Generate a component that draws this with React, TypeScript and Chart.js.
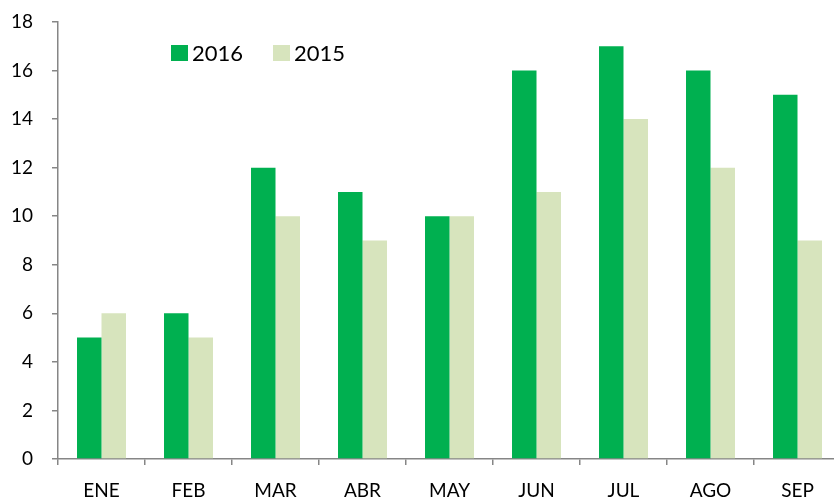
import React, { useEffect, useRef } from "react";
import { Chart, registerables } from "chart.js";

Chart.register(...registerables);

const categories = ["ENE", "FEB", "MAR", "ABR", "MAY", "JUN", "JUL", "AGO", "SEP"];
const values2016 = [5, 6, 12, 11, 10, 16, 17, 16, 15];
const values2015 = [6, 5, 10, 9, 10, 11, 14, 12, 9];
const seriesLabels = ["2016", "2015"];
const yMin = 0;
const yMax = 18;
const yStep = 2;

const COLOR_2016 = "#00B050";
const COLOR_2015 = "#D7E4BD";
const AXIS = "#868686";
const FONT = "Lato";

const legendPlugin = {
  id: "insideLegend",
  afterDraw(chart: any) {
    const ctx = chart.ctx;
    const xs = [171, 273];
    ctx.save();
    chart.data.datasets.forEach((ds: any, i: number) => {
      const x = xs[i];
      ctx.fillStyle = ds.backgroundColor;
      ctx.fillRect(x, 45, 17, 16);
      ctx.fillStyle = "#000";
      ctx.font = `22px ${FONT}`;
      ctx.textBaseline = "middle";
      ctx.textAlign = "left";
      ctx.fillText(ds.label, x + 21, 53.5);
    });
    ctx.restore();
  },
};

export default function App() {
  const ref = useRef<HTMLCanvasElement>(null);
  useEffect(() => {
    document.body.style.margin = "0";
    const chart = new Chart(ref.current!, {
      type: "bar",
      data: {
        labels: categories,
        datasets: [
          { label: seriesLabels[0], data: values2016, backgroundColor: COLOR_2016 },
          { label: seriesLabels[1], data: values2015, backgroundColor: COLOR_2015 },
        ],
      },
      options: {
        responsive: false,
        animation: false,
        devicePixelRatio: 1,
        layout: { padding: { left: 0, right: 4, top: 22, bottom: 0 } },
        datasets: {
          bar: { categoryPercentage: 0.563, barPercentage: 1 },
        },
        plugins: {
          legend: { display: false },
          tooltip: { enabled: false },
        },
        scales: {
          x: {
            grid: {
              display: true,
              drawOnChartArea: false,
              drawTicks: true,
              tickLength: 6,
              color: AXIS,
              lineWidth: 1.5,
              offset: true,
            },
            border: { display: true, color: AXIS, width: 1.5 },
            ticks: {
              color: "#000",
              font: { family: FONT, size: 19 },
              padding: 14,
              maxRotation: 0,
            },
            afterFit(scale: any) {
              scale.height = 40;
              scale.paddingLeft = 0;
              scale.paddingRight = 0;
            },
          },
          y: {
            min: yMin,
            max: yMax,
            grid: {
              display: true,
              drawOnChartArea: false,
              drawTicks: true,
              tickLength: 6,
              color: AXIS,
              lineWidth: 1.5,
            },
            border: { display: true, color: AXIS, width: 1.5 },
            ticks: {
              stepSize: yStep,
              color: "#000",
              font: { family: FONT, size: 19 },
              padding: 19,
            },
            afterFit(scale: any) {
              scale.width = 58;
              scale.paddingTop = 0;
              scale.paddingBottom = 0;
            },
          },
        },
      },
      plugins: [legendPlugin],
    });
    return () => chart.destroy();
  }, []);
  return (
    <div style={{ position: "absolute", left: 0, top: 0, width: 834, height: 499, overflow: "hidden" }}>
      <canvas ref={ref} width={845} height={499} style={{ width: 845, height: 499, display: "block" }} />
    </div>
  );
}
